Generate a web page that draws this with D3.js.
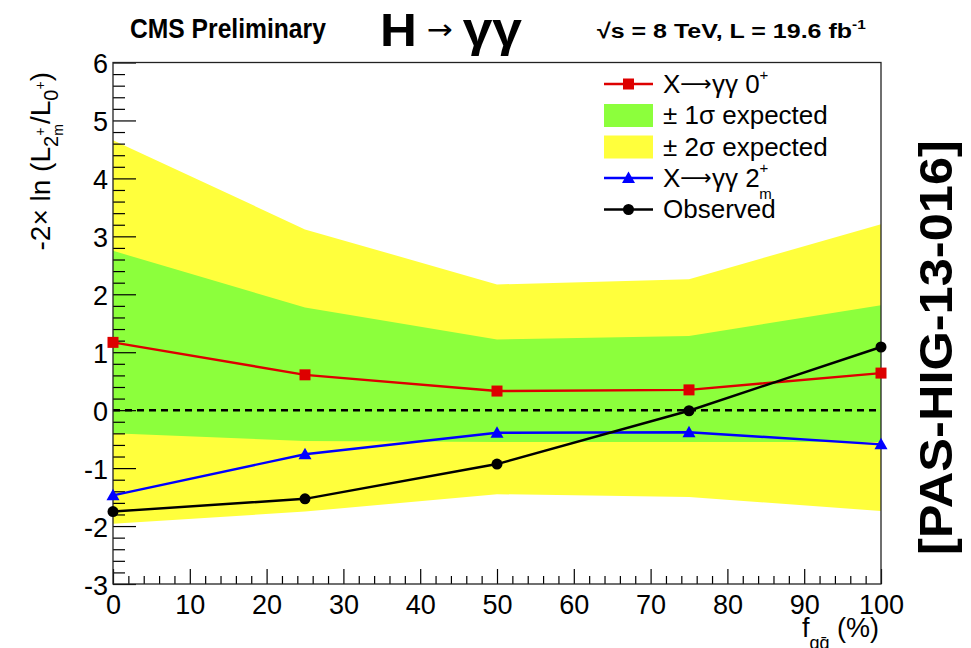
<!DOCTYPE html>
<html>
<head>
<meta charset="utf-8">
<script src="https://cdn.jsdelivr.net/npm/d3@7"></script>
<style>
  body { margin: 0; background: #fff; }
  svg { display: block; font-family: "Liberation Sans", Arial, Helvetica, sans-serif; }
</style>
</head>
<body>
<svg id="chart" width="971" height="648"></svg>
<script>
// q-qbar production fraction (%) at which the test statistic was evaluated
const fqq = [0, 25, 50, 75, 100];

// Expected median for the 0+ hypothesis and for the 2m+ hypothesis
const expected0 = [1.17, 0.61, 0.33, 0.35, 0.64];
const expected2 = [-1.47, -0.76, -0.39, -0.38, -0.59];

// Observed value
const observed = [-1.75, -1.53, -0.93, -0.01, 1.09];

// ±1σ and ±2σ bands around the 0+ expectation
const band1Lo = [-0.40, -0.53, -0.55, -0.55, -0.55];
const band1Hi = [2.75, 1.77, 1.22, 1.28, 1.81];
const band2Lo = [-1.96, -1.75, -1.45, -1.50, -1.74];
const band2Hi = [4.66, 3.12, 2.17, 2.26, 3.21];

// Axis ticks
const xMajor = [0, 10, 20, 30, 40, 50, 60, 70, 80, 90, 100];
const yMajor = [-3, -2, -1, 0, 1, 2, 3, 4, 5, 6];

const legendLabels = ["X", "± 1σ expected", "± 2σ expected", "X", "Observed"];

const col = { red: "#dd0000", blue: "#0000ff", green: "#8cff3c", yellow: "#ffff3c", black: "#000" };

const svg = d3.select("#chart");
const x = d3.scaleLinear().domain([0, 100]).range([113, 881]);
const y = d3.scaleLinear().domain([-3, 6]).range([584, 62.5]);

// Bands
const bandArea = (lo, hi) => d3.area()
  .x((d, i) => x(fqq[i])).y0((d, i) => y(lo[i])).y1((d, i) => y(hi[i]));
svg.append("path").attr("d", bandArea(band2Lo, band2Hi)(fqq)).attr("fill", col.yellow);
svg.append("path").attr("d", bandArea(band1Lo, band1Hi)(fqq)).attr("fill", col.green);

// Zero reference
svg.append("line")
  .attr("x1", x(0)).attr("x2", x(100)).attr("y1", y(0)).attr("y2", y(0))
  .attr("stroke", "#000").attr("stroke-width", 2.5).attr("stroke-dasharray", "7,5");

// Axes (ticks pointing inward)
const minorX = d3.range(0, 101, 2).filter(v => v % 10 !== 0);
const minorY = d3.range(-3, 6.001, 0.2).map(v => Math.round(v * 10) / 10).filter(v => Math.abs(v - Math.round(v)) > 1e-6);

svg.append("g").attr("transform", `translate(0,${y(-3)})`)
  .call(d3.axisBottom(x).tickValues(xMajor).tickSize(-15).tickSizeOuter(0).tickPadding(11).tickFormat(d => String(d)));
svg.append("g").attr("transform", `translate(0,${y(-3)})`)
  .call(d3.axisBottom(x).tickValues(minorX).tickSize(-8).tickSizeOuter(0).tickFormat(""));
const gy = svg.append("g").attr("transform", `translate(${x(0)},0)`)
  .call(d3.axisLeft(y).tickValues(yMajor).tickSize(-23).tickSizeOuter(0).tickPadding(5).tickFormat(d => String(d)));
svg.append("g").attr("transform", `translate(${x(0)},0)`)
  .call(d3.axisLeft(y).tickValues(minorY).tickSize(-12).tickSizeOuter(0).tickFormat(""));

svg.selectAll(".domain").remove();
svg.selectAll(".tick line").attr("stroke", "#000").attr("stroke-width", 1.2);
svg.selectAll(".tick text").attr("font-size", 27).attr("fill", "#000")
  .attr("font-family", "'Liberation Sans', Arial, sans-serif");
gy.selectAll(".tick text").attr("dy", "0.38em");

// Frame
svg.append("rect")
  .attr("x", x(0)).attr("y", y(6)).attr("width", x(100) - x(0)).attr("height", y(-3) - y(6))
  .attr("fill", "none").attr("stroke", "#222").attr("stroke-width", 1.3);

// Curves and markers
const line = vals => d3.line().x((d, i) => x(fqq[i])).y((d, i) => y(vals[i]))(fqq);
function series(vals, color, shape) {
  svg.append("path").attr("d", line(vals)).attr("fill", "none").attr("stroke", color).attr("stroke-width", 2.4);
  const g = svg.append("g");
  vals.forEach((v, i) => drawMarker(g, x(fqq[i]), y(v), color, shape));
}
function drawMarker(g, cx, cy, color, shape) {
  if (shape === "square") {
    g.append("rect").attr("x", cx - 5.5).attr("y", cy - 5.5).attr("width", 11).attr("height", 11).attr("fill", color);
  } else if (shape === "circle") {
    g.append("circle").attr("cx", cx).attr("cy", cy).attr("r", 5.5).attr("fill", color);
  } else {
    g.append("path").attr("d", "M0,-6.5L6.5,5L-6.5,5Z").attr("transform", `translate(${cx},${cy})`).attr("fill", color);
  }
}
series(expected0, col.red, "square");
series(expected2, col.blue, "triangle");
series(observed, col.black, "circle");

// Legend
const lg = svg.append("g");
const rows = [84, 115.5, 147, 178, 209.5];
const kinds = [
  { type: "line", color: col.red, shape: "square" },
  { type: "box", color: col.green },
  { type: "box", color: col.yellow },
  { type: "line", color: col.blue, shape: "triangle" },
  { type: "line", color: col.black, shape: "circle" }
];
function decay(t) {
  t.append("tspan").attr("font-family", "'DejaVu Sans', sans-serif").attr("font-size", 22).attr("dy", -2).text("⟶");
  t.append("tspan").attr("dy", 2).text("γγ ");
}
kinds.forEach((k, i) => {
  const cy = rows[i];
  if (k.type === "box") {
    lg.append("rect").attr("x", 604).attr("y", cy - 11.5).attr("width", 49).attr("height", 23).attr("fill", k.color);
  } else {
    lg.append("line").attr("x1", 604).attr("x2", 653).attr("y1", cy).attr("y2", cy)
      .attr("stroke", k.color).attr("stroke-width", 2.4);
    drawMarker(lg, 628.5, cy, k.color, k.shape);
  }
  const t = lg.append("text").attr("x", 663).attr("y", cy + 8.5).attr("font-size", 26).attr("fill", "#000")
    .text(legendLabels[i]);
  if (i === 0) {
    decay(t);
    t.append("tspan").text("0");
    t.append("tspan").attr("font-size", 15).attr("dy", -13).text("+");
  }
  if (i === 3) {
    decay(t);
    t.append("tspan").text("2");
    t.append("tspan").attr("font-size", 15).attr("dy", -14).text("+");
    t.append("tspan").attr("font-size", 15).attr("dx", -9).attr("dy", 26).text("m");
  }
});

// Horizontal squeeze to fit a target width
function fit(sel, w) {
  const len = sel.node().getComputedTextLength();
  const x0 = +sel.attr("x");
  sel.attr("transform", `translate(${x0},0) scale(${w / len},1) translate(${-x0},0)`);
}

// Header
const cms = svg.append("text").attr("x", 130).attr("y", 38).attr("font-size", 27).attr("font-weight", "bold")
  .text("CMS Preliminary");
fit(cms, 196);

const hgg = svg.append("text").attr("x", 380).attr("y", 46).attr("font-weight", "bold");
hgg.append("tspan").attr("font-size", 46).text("H");
hgg.append("tspan").attr("font-size", 28).attr("font-weight", "normal")
  .attr("font-family", "'DejaVu Sans', sans-serif").attr("dy", -7).text(" → ");
hgg.append("tspan").attr("font-size", 48).attr("dy", 7).text("γγ");
fit(hgg, 142);

const lumi = svg.append("text").attr("x", 597).attr("y", 38).attr("font-size", 21).attr("font-weight", "bold");
lumi.append("tspan").text("√s = 8 TeV, L = 19.6 fb");
lumi.append("tspan").attr("font-size", 13).attr("dy", -9).text("-1");
fit(lumi, 269);

// Axis titles
const yl = svg.append("text").attr("transform", "translate(50,72) rotate(-90)")
  .attr("x", 0).attr("y", 0).attr("text-anchor", "end").attr("font-size", 28);
yl.append("tspan").text("-2× ln (L");
yl.append("tspan").attr("font-size", 20).attr("dy", 8).text("2");
yl.append("tspan").attr("font-size", 14).attr("dy", -13).text("+");
yl.append("tspan").attr("font-size", 14).attr("dx", -8).attr("dy", 18).text("m");
yl.append("tspan").attr("font-size", 28).attr("dy", -13).text("/L");
yl.append("tspan").attr("font-size", 20).attr("dy", 8).text("0");
yl.append("tspan").attr("font-size", 14).attr("dy", -13).text("+");
yl.append("tspan").attr("font-size", 28).attr("dy", 5).text(")");

const xl = svg.append("text").attr("x", 879).attr("y", 637).attr("text-anchor", "end").attr("font-size", 27);
xl.append("tspan").text("f");
xl.append("tspan").attr("font-size", 18).attr("dy", 12).text("qq\u0304");
xl.append("tspan").attr("font-size", 27).attr("dy", -12).text(" (%)");

// Document reference on the right margin
const pas = svg.append("text").attr("transform", "translate(952,555) rotate(-90)")
  .attr("x", 0).attr("y", 0).attr("font-size", 46).attr("font-weight", "bold").text("[PAS-HIG-13-016]");
const pasLen = pas.node().getComputedTextLength();
pas.attr("transform", `translate(952,555) rotate(-90) scale(${415 / pasLen},1)`);
</script>
</body>
</html>
